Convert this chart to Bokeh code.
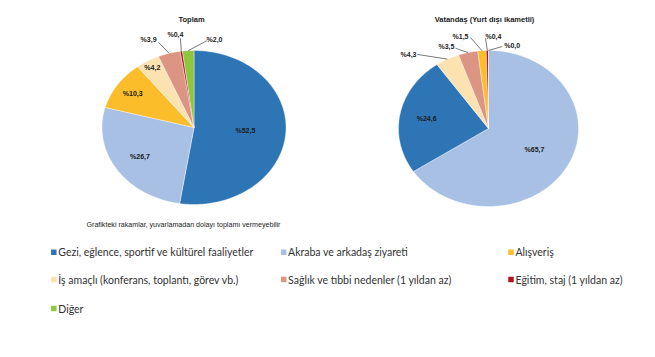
import numpy as np
from bokeh.plotting import figure
from bokeh.models import Range1d, ColumnDataSource
from bokeh.embed import file_html
from bokeh.resources import INLINE
from bokeh.core.properties import value

# ---------------- data ----------------
categories = [
    "Gezi, eğlence, sportif ve kültürel faaliyetler",
    "Akraba ve arkadaş ziyareti",
    "Alışveriş",
    "İş amaçlı (konferans, toplantı, görev vb.)",
    "Sağlık ve tıbbi nedenler (1 yıldan az)",
    "Eğitim, staj (1 yıldan az)",
    "Diğer",
]
colors = ["#2E75B6", "#A7C0E4", "#FBBE2A", "#FCE2B0", "#DC9583", "#B5121B", "#8DC63F"]

toplam_values = [52.5, 26.7, 10.3, 4.2, 3.9, 0.4, 2.0]
toplam_order = [0, 1, 2, 3, 4, 5, 6]          # clockwise from 12 o'clock

vatandas_values = [24.6, 65.7, 1.5, 4.3, 3.5, 0.4, 0.0]
vatandas_order = [1, 0, 3, 4, 2, 5, 6]        # clockwise from 12 o'clock

title_left = "Toplam"
title_right = "Vatandaş (Yurt dışı ikametli)"
note_text = "Grafikteki rakamlar, yuvarlamadan dolayı toplamı vermeyebilir"

# ---------------- figure ----------------
W, H = 655, 357
p = figure(width=W, height=H, x_range=Range1d(0, W), y_range=Range1d(H, 0),
           output_backend="svg", toolbar_location=None, min_border=0)
p.axis.visible = False
p.grid.visible = False
p.outline_line_color = None
p.background_fill_color = "white"
p.border_fill_color = "white"

LABEL_FONT = value("Liberation Sans")


def fmt(v):
    return "%" + f"{v:.1f}".replace(".", ",")


def draw_pie(cx, cy, rx, ry, values, order, inside_r, outside_layout):
    total = sum(values[i] for i in order)
    start = 0.0
    xs, ys, fills = [], [], []
    mids = []
    for i in order:
        frac = values[i] / total
        a0 = start * 2 * np.pi
        a1 = (start + frac) * 2 * np.pi
        mids.append(((a0 + a1) / 2, i))
        n = max(2, int(np.ceil(frac * 400)))
        th = np.linspace(a0, a1, n)
        px = np.concatenate([[cx], cx + rx * np.sin(th)])
        py = np.concatenate([[cy], cy - ry * np.cos(th)])
        xs.append(list(px))
        ys.append(list(py))
        fills.append(colors[i])
        start += frac
    src = ColumnDataSource(dict(xs=xs, ys=ys, fill=fills))
    p.patches("xs", "ys", source=src, fill_color="fill", line_color="white",
              line_width=0.4)

    # inside labels
    tx, ty, tt = [], [], []
    for k, r in enumerate(inside_r):
        ang, i = mids[k]
        tx.append(cx + r * rx * np.sin(ang))
        ty.append(cy - r * ry * np.cos(ang))
        tt.append(fmt(values[i]))
    p.text(tx, ty, text=tt, text_font=LABEL_FONT, text_font_size="7px",
           text_font_style="bold", text_align="center", text_baseline="middle",
           text_color="#1a1a1a")

    # outside labels with leader lines
    ox, oy, ot = [], [], []
    lx, ly = [], []
    for k, (ldx, ldy, sdx, sdy) in enumerate(outside_layout):
        ang, i = mids[len(inside_r) + k]
        ax = cx + rx * np.sin(ang)
        ay = cy - ry * np.cos(ang)
        ox.append(ax + ldx)
        oy.append(ay + ldy)
        ot.append(fmt(values[i]))
        lx.append([ax + sdx, ax])
        ly.append([ay + sdy, ay])
    p.multi_line(lx, ly, line_color="#404040", line_width=0.7)
    p.text(ox, oy, text=ot, text_font=LABEL_FONT, text_font_size="7px",
           text_font_style="bold", text_align="center", text_baseline="middle",
           text_color="#1a1a1a")


draw_pie(193.5, 127, 92, 77, toplam_values, toplam_order,
         [0.56, 0.7, 0.8, 0.9],
         [(-20.6, -13.9, -10.6, -10.9),
          (-5.9, -16.8, -0.9, -12.8),
          (26.3, -11.1, 19.0, -10.1)])

draw_pie(488, 128, 90, 78, vatandas_values, vatandas_order,
         [0.58, 0.7],
         [(-38.9, -5.0, -30.2, -4.7),
          (-21.6, -6.0, -12.6, -4.3),
          (-21.5, -14.2, -11.5, -13.2),
          (6.1, -14.0, -1.9, -12.3),
          (23.7, -4.7, 13.7, -4.0)])

# titles
p.text([191, 484], [19, 19], text=[title_left, title_right], text_font=LABEL_FONT,
       text_font_size="7.5px", text_font_style="bold", text_align="center",
       text_baseline="middle", text_color="#1a1a1a")

# note
p.text([86], [224], text=[note_text], text_font=LABEL_FONT, text_font_size="7.1px",
       text_align="left", text_baseline="middle", text_color="#222222")

# legend
col_sq = [53.3, 283.2, 510.5]
col_tx = [57.8, 287.6, 515.0]
row_y = [251.7, 279.0, 308.0]
sx, sy, sc, lx_, ly_ = [], [], [], [], []
for i, c in enumerate(categories):
    col, row = i % 3, i // 3
    sx.append(col_sq[col]); sy.append(row_y[row]); sc.append(colors[i])
    lx_.append(col_tx[col]); ly_.append(row_y[row])
p.scatter(sx, sy, marker="square", size=5.5, fill_color=sc, line_color=None)
p.text(lx_, ly_, text=categories, text_font=value("Lato"),
       text_font_size="10.5px", text_align="left", text_baseline="middle",
       text_color="#333333")

open("out.html", "w").write(file_html(p, INLINE))
